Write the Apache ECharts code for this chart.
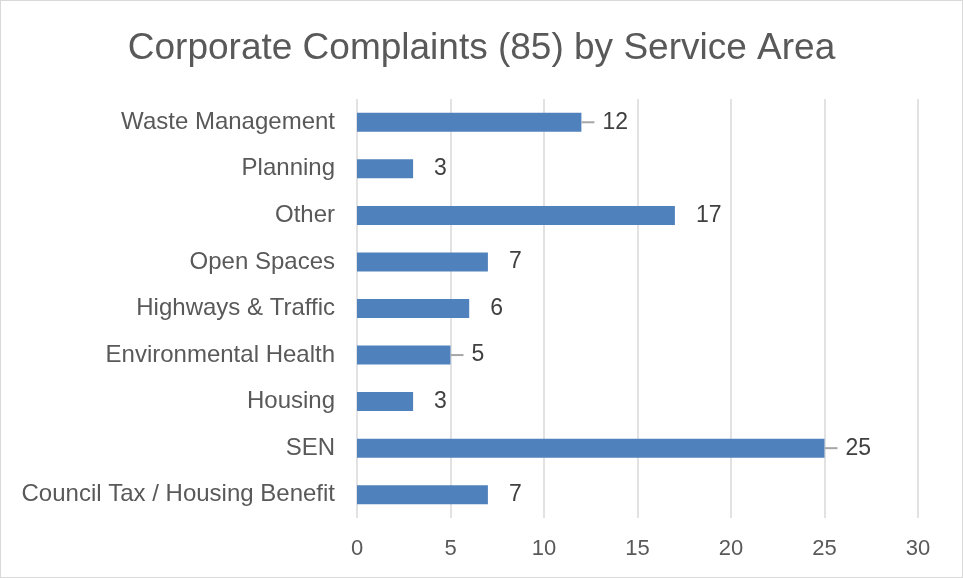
<!DOCTYPE html>
<html>
<head>
<meta charset="utf-8">
<script src="https://cdn.jsdelivr.net/npm/echarts@6/dist/echarts.min.js"></script>
<style>
  html, body { margin: 0; padding: 0; background: #fff; }
  #chart { width: 963px; height: 578px; box-sizing: border-box; border: 1px solid #d9d9d9; }
</style>
</head>
<body>
<div id="chart"></div>
<script>
// 数据 (bottom to top, as Excel draws it)
const categories = ['Council Tax / Housing Benefit', 'SEN', 'Housing', 'Environmental Health',
  'Highways & Traffic', 'Open Spaces', 'Other', 'Planning', 'Waste Management']
const complaints = [7, 25, 3, 5, 6, 7, 17, 3, 12]
const leaderLines = ['SEN', 'Environmental Health', 'Waste Management'] // labels with a leader line
const tickValues = [0, 5, 10, 15, 20, 25, 30]

const chart = echarts.init(document.getElementById('chart'), null, { renderer: 'canvas' })
const font = 'Liberation Sans, Arial, sans-serif'

const barData = complaints.map((v, i) => {
  const item = { value: v }
  if (leaderLines.includes(categories[i])) {
    item.label = {
      distance: 0,
      formatter: '{l|}{v|{c}}'
    }
  }
  return item
})

const option = {
  animation: false,
  title: {
    text: 'Corporate Complaints (85) by Service Area',
    left: 'center',
    top: 24,
    textStyle: { color: '#595959', fontFamily: font, fontSize: 37, fontWeight: 'normal' }
  },
  grid: { left: 356, right: 44, top: 98, bottom: 59, containLabel: false },
  xAxis: {
    type: 'value',
    min: tickValues[0],
    max: tickValues[tickValues.length - 1],
    interval: 5,
    axisLine: { show: false },
    axisTick: { show: false },
    splitLine: { lineStyle: { color: '#d9d9d9', width: 1.5 } },
    axisLabel: { color: '#595959', fontFamily: font, fontSize: 22, margin: 20 }
  },
  yAxis: {
    type: 'category',
    data: categories,
    axisLine: { show: false },
    axisTick: { show: false },
    axisLabel: { color: '#595959', fontFamily: font, fontSize: 24, margin: 22 }
  },
  series: [
    {
      type: 'bar',
      data: barData,
      barWidth: 19,
      itemStyle: { color: '#4f81bd' },
      label: {
        show: true,
        position: 'right',
        distance: 21,
        color: '#404040',
        fontFamily: font,
        fontSize: 23,
        rich: {
          l: { width: 13, height: 2, backgroundColor: '#a6a6a6' },
          v: { color: '#404040', fontFamily: font, fontSize: 23, padding: [0, 0, 0, 8] }
        }
      }
    }
  ]
}
chart.setOption(option)
</script>
</body>
</html>
